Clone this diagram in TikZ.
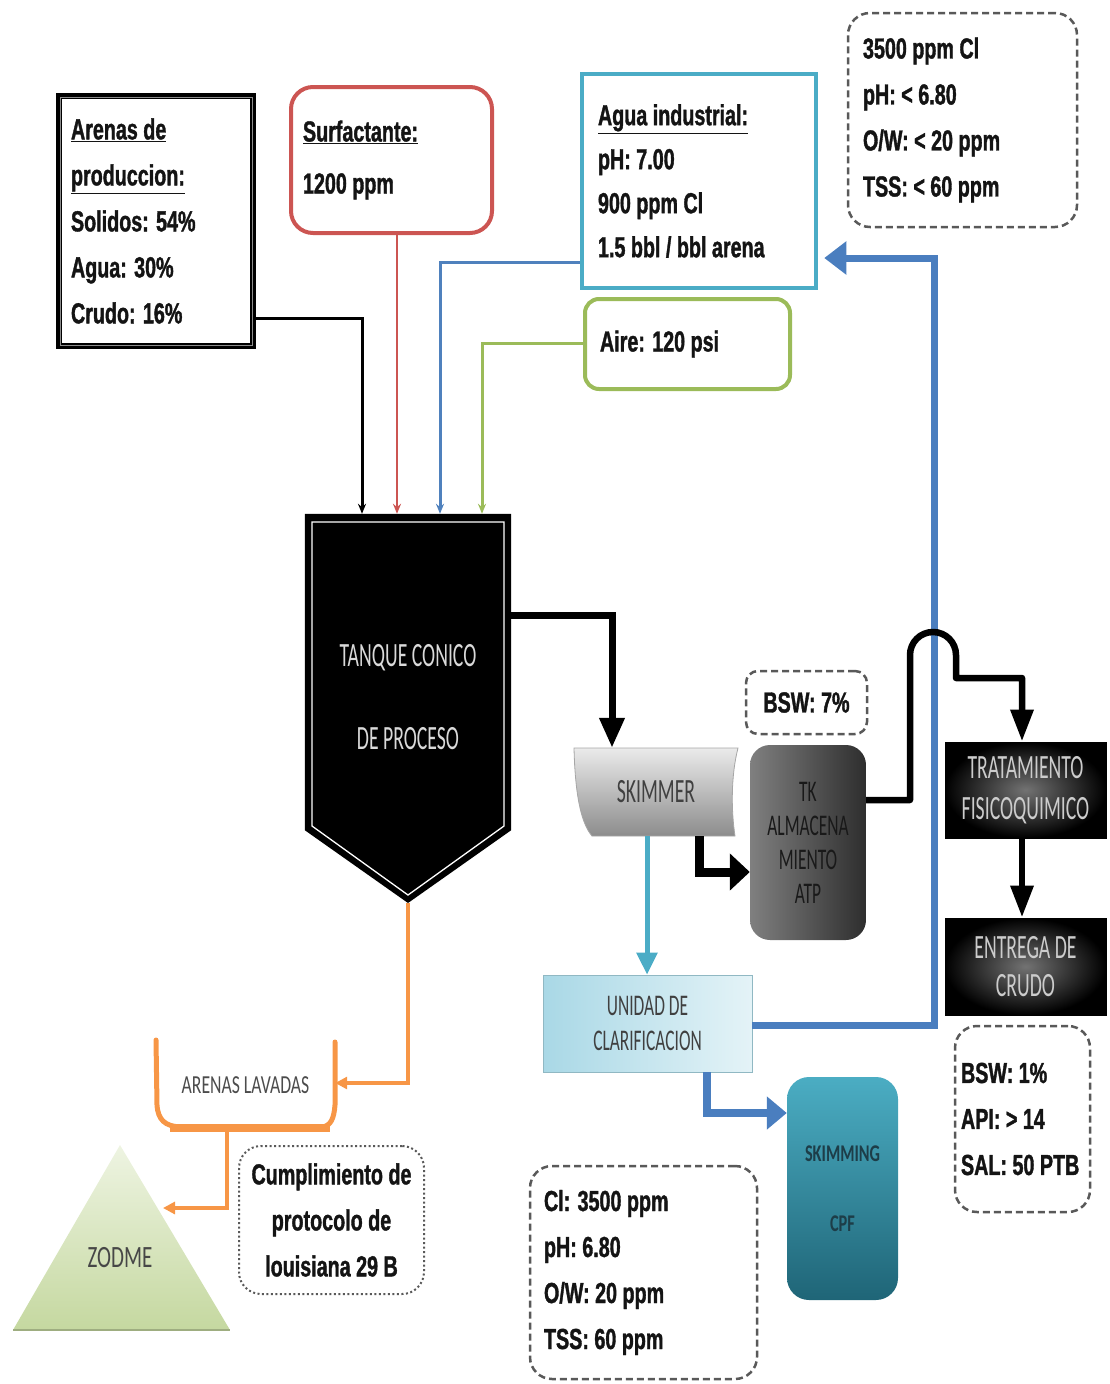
\documentclass[tikz,border=0pt]{standalone}
\usepackage{fontspec}
\setmainfont{Liberation Sans}
\newfontfamily\lblfont[FakeStretch=0.68, FakeBold=1.2]{Liberation Sans Bold}
\newfontfamily\shpfont[FakeStretch=0.58]{Carlito}
\newfontfamily\shpwfont[FakeStretch=0.68]{Carlito}
\usetikzlibrary{arrows.meta,calc}
\definecolor{redB}{HTML}{CC5552}
\definecolor{cyanB}{HTML}{4BACC6}
\definecolor{blueL}{HTML}{4F81BD}
\definecolor{greenB}{HTML}{9BBB59}
\definecolor{orangeB}{HTML}{F79646}
\definecolor{retB}{HTML}{4A7EBF}
\definecolor{unidA}{HTML}{A9D8E6}
\definecolor{unidB}{HTML}{E4F3F7}
\definecolor{tealA}{HTML}{4BADC3}
\definecolor{tealB}{HTML}{1F6577}
\definecolor{tealT}{HTML}{1D3D48}
\definecolor{zodA}{HTML}{EEF4E2}
\definecolor{zodB}{HTML}{C5D8A0}
\begin{document}
\begin{tikzpicture}[x=1pt,y=-1pt,
  lbl/.style={font=\lblfont\fontsize{29}{46}\selectfont, align=flush left, text=black!92},
  dbox/.style={lbl, draw=black!65, dash pattern=on 7pt off 4pt, line width=2.5pt, rounded corners=22pt},
  shp/.style={font=\shpfont\fontsize{34}{41}\selectfont, align=flush center},
  shpw/.style={font=\shpwfont\fontsize{26}{30}\selectfont, align=flush center},
  inlet/.style={line width=3pt, -{Stealth[length=10pt,width=8pt]}},
  blkA/.style={black, line width=7pt, -{Triangle[length=30pt,width=24pt]}},
  blkB/.style={black, line width=9pt, -{Triangle[length=20pt,width=36pt]}},
  blkC/.style={black, line width=6.5pt, -{Triangle[length=32pt,width=22pt]}},
  orng/.style={orangeB, line width=3.5pt, -{Triangle[length=12pt,width=12pt]}},
]
\useasboundingbox (0,0) rectangle (1110,1384);

% ---------- input boxes ----------
\node[lbl, draw=black, line width=6pt, minimum height=250pt, text width=170pt, inner xsep=12pt] (arenas) at (156,221)
  {\underline{Arenas de}\\\underline{produccion:}\\Solidos: 54\%\\Agua: 30\%\\Crudo: 16\%};
\draw[black!45, line width=1pt] ($(arenas.north west)+(4,4)$) rectangle ($(arenas.south east)+(-4,-4)$);
\node[lbl, font=\lblfont\fontsize{29}{52}\selectfont, draw=redB, line width=4pt, rounded corners=22pt,
  minimum height=146pt, text width=177pt, inner xsep=12pt] (surf) at (391.5,160)
  {\underline{Surfactante:}\\1200 ppm};
\node[lbl, font=\lblfont\fontsize{29}{44}\selectfont, draw=cyanB, line width=4.5pt,
  minimum height=214pt, text width=202pt, inner xsep=16pt] (agua) at (699,181)
  {\underline{Agua industrial:}\\pH: 7.00\\900 ppm Cl\\1.5 bbl / bbl arena};
\node[dbox, minimum height=214pt, text width=199pt, inner xsep=15pt] (limits) at (962.5,120)
  {3500 ppm Cl\\pH: < 6.80\\O/W: < 20 ppm\\TSS: < 60 ppm};
\node[lbl, draw=greenB, line width=4pt, rounded corners=14pt, minimum height=90pt, text width=175pt, inner xsep=15pt] (aire) at (687.5,344)
  {Aire: 120 psi};

% ---------- tank ----------
\node[minimum width=206pt, minimum height=316pt, inner sep=0pt] (tank) at (408,672) {};
\coordinate (tanktip) at (408,903);
\fill[black] (tank.north west) -- (tank.north east) -- (tank.south east) -- (tanktip) -- (tank.south west) -- cycle;
\draw[white, line width=1.3pt] (312,522) -- (504,522) -- (504,826) -- (408,895) -- (312,826) -- cycle;
\node[shp, text=black!15, font=\shpfont\fontsize{34}{83}\selectfont] (tanklabel) at (408,697) {TANQUE CONICO\\DE PROCESO};

% inlets
\draw[inlet, black] (arenas.east |- 0,318) -| (tank.north -| 362,0);
\draw[inlet, redB, line width=2.5pt] (surf.south -| 397,0) -- (tank.north -| 397,0);
\draw[inlet, blueL] (agua.west |- 0,262) -| (tank.north -| 440,0);
\draw[inlet, greenB] (aire.west |- 0,343) -| (tank.north -| 482,0);

% ---------- skimmer ----------
\shade[top color=black!8, bottom color=black!45, draw=black!35, line width=0.8pt]
  (574,748) -- (738,748) .. controls (731,775) and (731,810) .. (735,836) -- (592,836)
  .. controls (580,822) and (575,790) .. (574,748) -- cycle;
\node[shp, text=black!75, minimum width=164pt, minimum height=88pt] (skimmer) at (656,792) {SKIMMER};

\node[dbox, align=flush center, minimum width=121pt, minimum height=63pt, rounded corners=12pt] (bsw7) at (806.5,702.5) {BSW: 7\%};

\node[shp, font=\shpfont\fontsize{30}{34}\selectfont, text=black!90, rounded corners=20pt,
  left color=black!50, right color=black!82, minimum width=116pt, minimum height=195pt] (tk) at (808,842.5)
  {TK\\ALMACENA\\MIENTO\\ATP};

\node[shp, text=black!20, inner color=black!55, outer color=black, draw=black, line width=1pt,
  minimum width=161pt, minimum height=96pt] (trat) at (1025.5,790) {TRATAMIENTO\\FISICOQUIMICO};
\node[shp, font=\shpfont\fontsize{34}{38}\selectfont, text=black!20, inner color=black!55, outer color=black, draw=black, line width=1pt,
  minimum width=161pt, minimum height=97pt] (entrega) at (1025.5,966.5) {ENTREGA DE\\CRUDO};

\node[dbox, text width=123pt, inner xsep=6pt, minimum height=186pt] (bsw1) at (1022.5,1119)
  {BSW: 1\%\\API: > 14\\SAL: 50 PTB};

\node[shp, font=\shpfont\fontsize{30}{35}\selectfont, text=black!75, left color=unidA, right color=unidB,
  draw=unidA!85!black, line width=0.6pt, minimum width=209pt, minimum height=97pt] (unidad) at (647.5,1023.5)
  {UNIDAD DE\\CLARIFICACION};

\node[shpw, font=\shpwfont\bfseries\fontsize{24}{70}\selectfont, text=tealT, rounded corners=22pt,
  top color=tealA, bottom color=tealB, minimum width=111pt, minimum height=223pt] (skimming) at (842.5,1188.5)
  {SKIMMING\\CPF};

\node[dbox, text width=199pt, inner xsep=14pt, minimum height=213pt] (clbox) at (643.5,1272.5)
  {Cl: 3500 ppm\\pH: 6.80\\O/W: 20 ppm\\TSS: 60 ppm};

% ---------- process connectors ----------
\draw[blkA] (tank.east |- 0,615) -| (skimmer.north -| 612,0);
\draw[blkB] (skimmer.south -| 699,0) |- (tk.west |- 0,872);
\draw[cyanB, line width=5pt, -{Triangle[length=22pt,width=20pt]}] (skimmer.south -| 647,0) -- (unidad.north -| 647,0);

% water return (drawn before the crossing)
\draw[retB, line width=7pt, -{Triangle[length=22pt,width=32pt]}]
  (unidad.east |- 0,1025) -| (934,258) -- ($(agua.east |- 0,258)+(6,0)$);
\draw[retB, line width=8pt, -{Triangle[length=20pt,width=32pt]}] (unidad.south -| 707,0) |- (skimming.west |- 0,1113);

% oil line with bridge
\draw[blkC, line join=round] (tk.east |- 0,800) -- (910,800) -- (910,655)
  arc[start angle=180, end angle=360, radius=23] -- (956,678) -| (trat.north -| 1022,0);
\draw[blkC] (trat.south -| 1022,0) -- (entrega.north -| 1022,0);

% ---------- sands ----------
\draw[orangeB, line width=5pt, line cap=round] (156,1040) -- (157,1105) .. controls (158,1120) and (165,1126) .. (180,1127)
  -- (322,1127) .. controls (331,1126) and (334,1118) .. (335,1105) -- (335,1042);
\fill[orangeB] (170,1124) rectangle (330,1132);
\node[shpw, text=black!70, minimum width=179pt, minimum height=85pt] (lavadas) at (245.5,1085) {ARENAS LAVADAS};

\shade[top color=zodA, bottom color=zodB] (120,1145) -- (230,1330) -- (13,1330) -- cycle;
\draw[zodB!80!black, line width=1.5pt] (13,1330) -- (230,1330);
\node[shpw, font=\shpwfont\fontsize{31}{34}\selectfont, text=black!72] (zodme) at (120,1258) {ZODME};
\coordinate (zodmeedge) at (163,1208);

\draw[orng] (tanktip) |- (lavadas.east |- 0,1083);
\draw[orng] (lavadas.south -| 227,0) |- (zodmeedge);

\node[lbl, align=flush center, draw=black!65, dash pattern=on 2pt off 2.5pt, line width=2pt, rounded corners=22pt,
  minimum width=185pt, minimum height=148pt, text width=175pt] (cumpl) at (331.5,1220)
  {Cumplimiento de\\protocolo de\\louisiana 29 B};
\end{tikzpicture}
\end{document}
